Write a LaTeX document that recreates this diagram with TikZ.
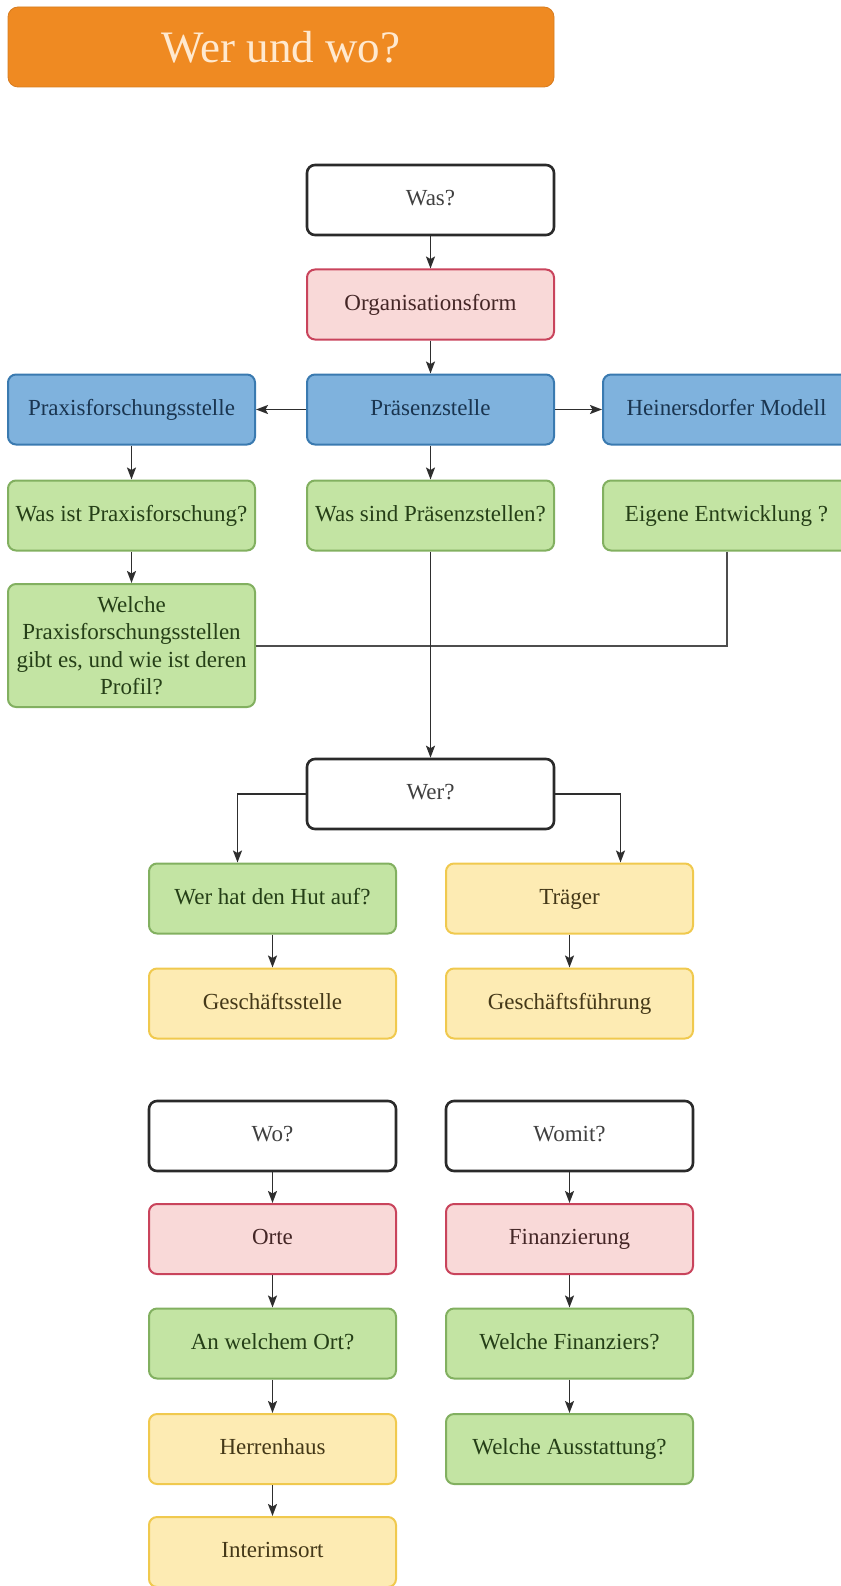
\documentclass[tikz,border=0pt]{standalone}
\usepackage{fontspec}
\setmainfont{Liberation Serif}
\usetikzlibrary{arrows.meta,calc}
\definecolor{titlefill}{HTML}{EF8A22}
\definecolor{titletext}{HTML}{FFE9CF}
\definecolor{wborder}{HTML}{2A2A2A}
\definecolor{wtext}{HTML}{404040}
\definecolor{bfill}{HTML}{7FB2DD}
\definecolor{bdraw}{HTML}{3A7AB0}
\definecolor{btext}{HTML}{1A3550}
\definecolor{gfill}{HTML}{C3E4A3}
\definecolor{gdraw}{HTML}{82B060}
\definecolor{gtext}{HTML}{253F17}
\definecolor{rfill}{HTML}{F9D9D8}
\definecolor{rdraw}{HTML}{C9445C}
\definecolor{rtext}{HTML}{442626}
\definecolor{yfill}{HTML}{FDEBB3}
\definecolor{ydraw}{HTML}{F0C94E}
\definecolor{ytext}{HTML}{443818}
\definecolor{conn}{HTML}{2E2E2E}
\begin{document}
\begin{tikzpicture}[x=1pt,y=-1pt,
  boxbase/.style={rounded corners=8pt, line width=2pt, minimum height=70pt, minimum width=247pt,
    inner xsep=2pt, align=center, font=\fontsize{23}{27.5}\selectfont},
  box/.style={boxbase, text height=16pt, text depth=5pt},
  whitebox/.style={box, draw=wborder, fill=white, line width=2.6pt, text=wtext},
  bluebox/.style={box, draw=bdraw, fill=bfill, text=btext},
  greenbox/.style={box, draw=gdraw, fill=gfill, text=gtext},
  greenmulti/.style={boxbase, draw=gdraw, fill=gfill, text=gtext},
  redbox/.style={box, draw=rdraw, fill=rfill, text=rtext},
  yellowbox/.style={box, draw=ydraw, fill=yfill, text=ytext},
  titlebox/.style={rounded corners=10pt, draw=titlefill!90!black, line width=0.8pt, fill=titlefill,
    text=titletext, minimum width=546pt, minimum height=80pt, font=\fontsize{45}{50}\selectfont},
  arr/.style={draw=conn, line width=1.8pt, -{Stealth[length=12pt,width=9pt,inset=2.5pt]}},
  link/.style={draw=conn!85, line width=2pt},
]
\useasboundingbox (0,0) rectangle (840,1586);

\node[titlebox] (title) at (281,47) {Wer und wo?};

\node[whitebox] (was) at (430.5,200) {Was?};
\node[redbox] (org) at (430.5,304.5) {Organisationsform};
\node[bluebox] (praes) at (430.5,409.5) {Präsenzstelle};
\node[bluebox] (praxis) at (131.5,409.5) {Praxisforschungsstelle};
\node[bluebox] (heiner) at (726.5,409.5) {Heinersdorfer Modell};
\node[greenbox] (wasist) at (131.5,515.5) {Was ist Praxisforschung?};
\node[greenbox] (wassind) at (430.5,515.5) {Was sind Präsenzstellen?};
\node[greenbox] (eigene) at (726.5,515.5) {Eigene Entwicklung ?};
\node[greenmulti, minimum height=123pt] (welche) at (131.5,645.5)
  {Welche\\Praxisforschungsstellen\\gibt es, und wie ist deren\\Profil?};

\node[whitebox] (wer) at (430.5,794) {Wer?};
\node[greenbox] (hut) at (272.5,898.5) {Wer hat den Hut auf?};
\node[yellowbox] (traeger) at (569.5,898.5) {Träger};
\node[yellowbox] (gstelle) at (272.5,1003.5) {Geschäftsstelle};
\node[yellowbox] (gfuehrung) at (569.5,1003.5) {Geschäftsführung};

\node[whitebox] (wo) at (272.5,1136) {Wo?};
\node[redbox] (orte) at (272.5,1239) {Orte};
\node[greenbox] (ort) at (272.5,1343.5) {An welchem Ort?};
\node[yellowbox] (herren) at (272.5,1449) {Herrenhaus};
\node[yellowbox] (interim) at (272.5,1552) {Interimsort};

\node[whitebox] (womit) at (569.5,1136) {Womit?};
\node[redbox] (finanz) at (569.5,1239) {Finanzierung};
\node[greenbox] (finanziers) at (569.5,1343.5) {Welche Finanziers?};
\node[greenbox] (ausstatt) at (569.5,1449) {Welche Ausstattung?};

\draw[arr] (was) -- (org);
\draw[arr] (org) -- (praes);
\draw[arr] (praes) -- (praxis);
\draw[arr] (praes) -- (heiner);
\draw[arr] (praxis) -- (wasist);
\draw[arr] (praes) -- (wassind);
\draw[arr] (wasist) -- (welche);
\draw[link] (eigene.south) |- (welche.east);
\draw[arr] (wassind.south) -- (wer.north);

\draw[arr] (wer.west) -| ([xshift=-35pt]hut.north);
\draw[arr] (wer.east) -| ([xshift=51pt]traeger.north);
\draw[arr] (hut) -- (gstelle);
\draw[arr] (traeger) -- (gfuehrung);

\draw[arr] (wo) -- (orte);
\draw[arr] (orte) -- (ort);
\draw[arr] (ort) -- (herren);
\draw[arr] (herren) -- (interim);
\draw[arr] (womit) -- (finanz);
\draw[arr] (finanz) -- (finanziers);
\draw[arr] (finanziers) -- (ausstatt);
\end{tikzpicture}
\end{document}
